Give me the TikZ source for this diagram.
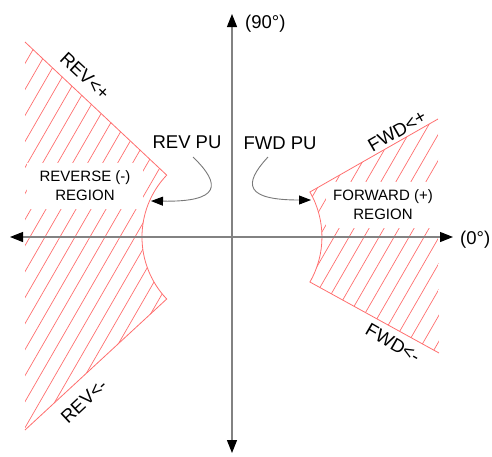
\documentclass[tikz,border=0pt]{standalone}
\usepackage{fontspec}
\setmainfont{Liberation Sans}
\usetikzlibrary{arrows.meta}
\definecolor{hred}{RGB}{255,110,110}
\definecolor{axgray}{RGB}{130,130,130}
\definecolor{pugray}{RGB}{120,120,120}
\begin{document}
\begin{tikzpicture}[x=1pt,y=-1pt,
  axis/.style={draw=axgray, line width=1.1pt,
    {Triangle[length=13pt,width=10pt,color=black]}-{Triangle[length=13pt,width=10pt,color=black]}},
  hatchline/.style={draw=hred, line width=0.7pt},
  regedge/.style={draw=hred, line width=0.8pt},
  lbl/.style={font=\fontsize{18.5}{20}\selectfont, inner sep=1pt},
  slopelbl/.style={font=\fontsize{18.5}{20}\selectfont, inner sep=1pt},
  regionlbl/.style={font=\fontsize{15}{19}\selectfont, fill=white, align=center, inner sep=0pt},
  puarrow/.style={draw=pugray, line width=0.9pt, -{Triangle[length=12pt,width=9pt,color=black]}}]
\useasboundingbox (0,0) rectangle (492,456);
\coordinate (O) at (232,237);
% left (reverse) region
\coordinate (LT) at (25,42);
\coordinate (LA) at (166.7,175.1);
\coordinate (LBL) at (25,430);
\begin{scope}
  \clip (LT) -- (LA) arc[start angle=223.5, end angle=136.5, radius=90] -- (LBL) -- cycle;
  \foreach \k in {0,...,60} \draw[hatchline] ({-299.4+15*\k},470) -- ++(271,-470);
\end{scope}
% right (forward) region
\coordinate (RT) at (438,119);
\coordinate (RA) at (309.9,192);
\coordinate (RBR) at (439,353);
\begin{scope}
  \clip (RT) -- (RA) arc[start angle=-30, end angle=30, radius=90] -- (RBR) -- cycle;
  \foreach \k in {0,...,60} \draw[hatchline] ({-280.3+15*\k},470) -- ++(271,-470);
\end{scope}
\node[regionlbl, minimum width=116pt, minimum height=46pt] (revreg) at (85,186) {REVERSE (-)\\REGION};
\node[regionlbl, minimum width=114pt, minimum height=46pt] (fwdreg) at (383,205) {FORWARD (+)\\REGION};
\draw[regedge] (LT) -- (LA) arc[start angle=223.5, end angle=136.5, radius=90] -- (LBL);
\draw[regedge] (RT) -- (RA) arc[start angle=-30, end angle=30, radius=90] -- (RBR);
% axes
\coordinate (xl) at (10,237);
\coordinate (xr) at (453,237);
\coordinate (yt) at (232,14);
\coordinate (yb) at (232,453);
\draw[axis] (xl) -- (xr);
\draw[axis] (yb) -- (yt);
\node[lbl, anchor=west] (ylab) at (244,24) {(90°)};
\node[lbl, anchor=west] (xlab) at (459,240) {(0°)};
% PU labels and arrows
\node[lbl] (revpu) at (187,142.5) {REV PU};
\node[lbl] (fwdpu) at (280,143) {FWD PU};
\coordinate (revs) at (193,157);
\coordinate (revt) at (151,201);
\draw[puarrow] (revs) .. controls (222,185) and (220,202) .. (revt);
\coordinate (fwds) at (268,157);
\coordinate (fwdt) at (311,200);
\draw[puarrow] (fwds) .. controls (242,185) and (246,200) .. (fwdt);
% edge labels
\node[slopelbl, rotate=-43] (revplus) at (85,76) {REV<+};
\node[slopelbl, rotate=43] (revminus) at (84,401) {REV<-};
\node[slopelbl, rotate=30] (fwdplus) at (397,131) {FWD<+};
\node[slopelbl, rotate=-30] (fwdminus) at (393,343) {FWD<-};
\end{tikzpicture}
\end{document}
